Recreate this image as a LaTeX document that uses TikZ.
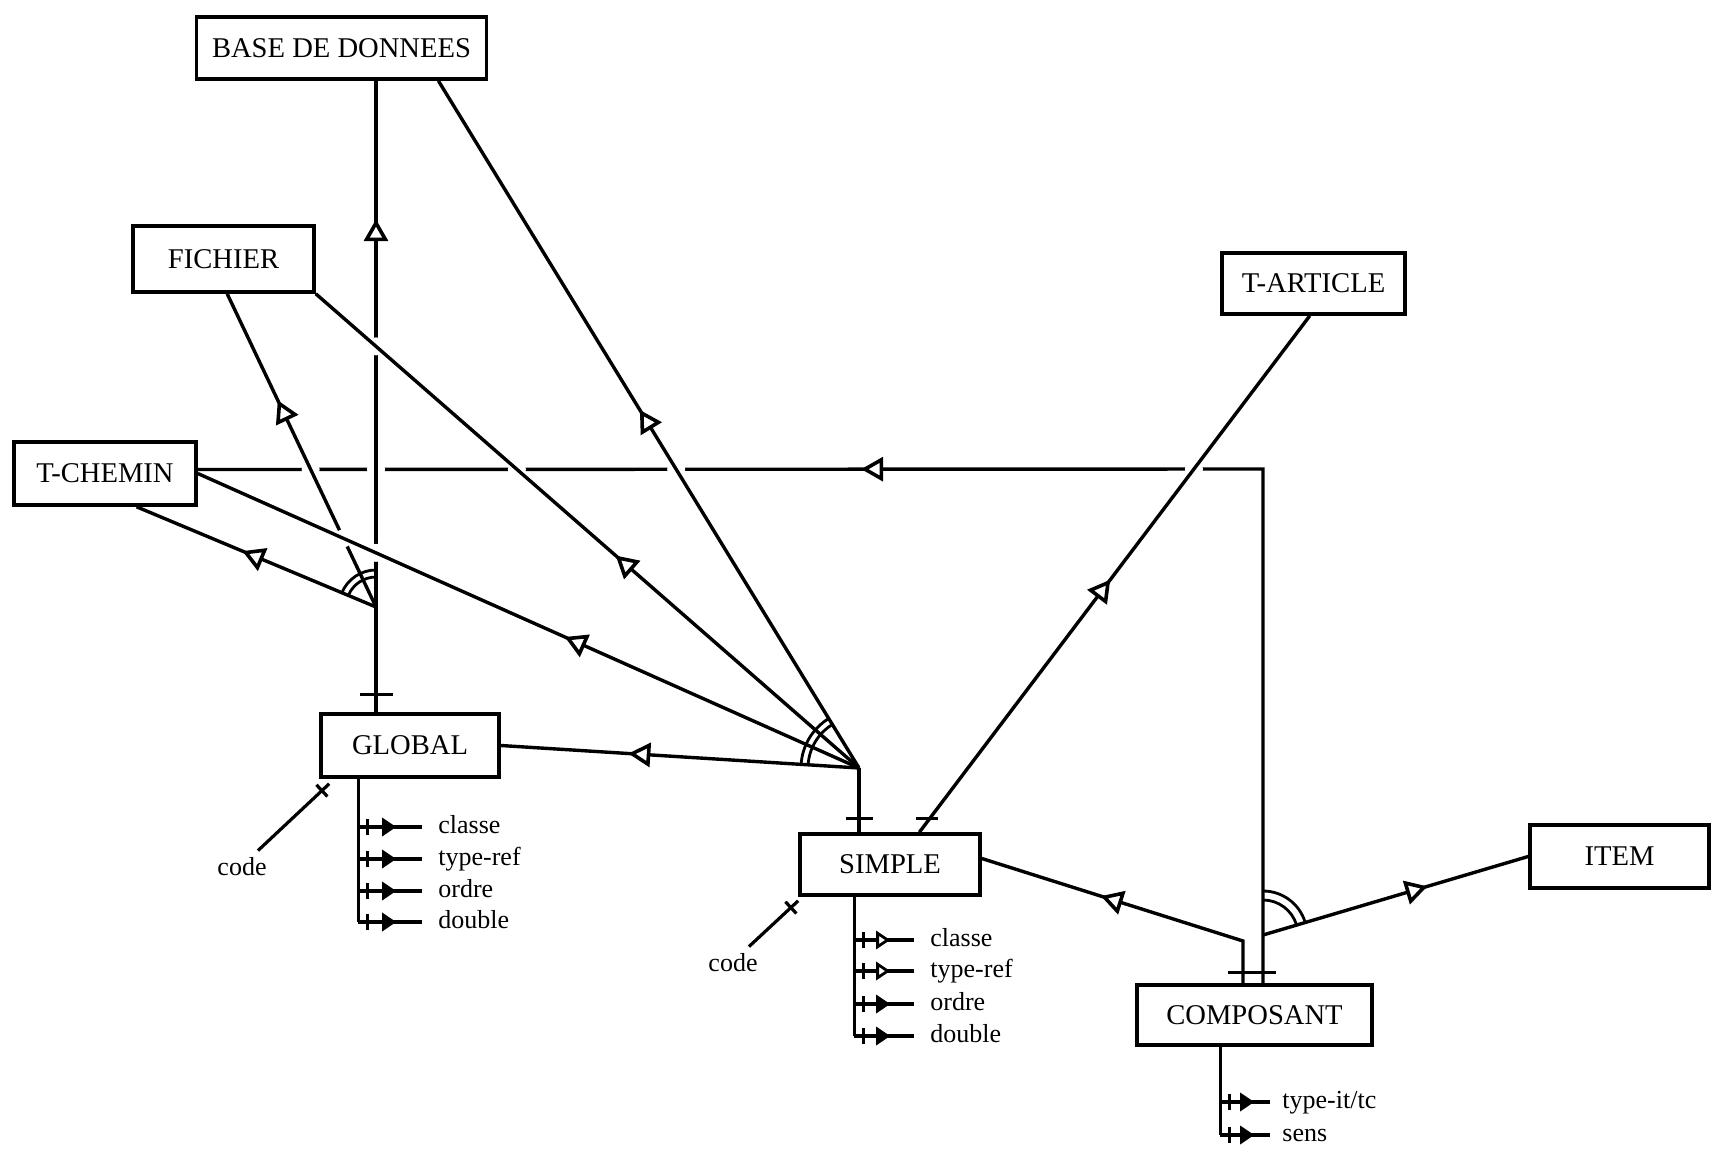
\documentclass[tikz,border=0pt]{standalone}
\usepackage{fontspec}
\setmainfont{Liberation Serif}
\usetikzlibrary{calc,intersections,decorations.markings,arrows.meta}
\begin{document}
\begin{tikzpicture}[x=0.5pt,y=-0.5pt,
  box/.style={draw, line width=1.8pt, rectangle, inner sep=0pt, font=\fontsize{14.3}{16}\selectfont},
  line/.style={line width=1.7pt},
  tickbar/.style={line width=1.7pt},
  arcline/.style={line width=1.4pt},
  arr/.style={postaction={decorate,decoration={markings,mark=at position #1 with {\arrow[line width=1.8pt]{Triangle[open,fill=white,length=11pt,width=12pt]}}}}},
  lab/.style={inner sep=0pt, text height=6pt, text depth=0pt, font=\fontsize{13}{15}\selectfont},
  attrf/.style={line width=1.6pt, postaction={decorate,decoration={markings,
     mark=at position 4.5pt with {\draw[line width=1.3pt] (0pt,-4pt) -- (0pt,4pt);},
     mark=at position #1 with {\arrow{Triangle[length=7pt,width=9pt]}}}}},
  attro/.style={line width=1.6pt, postaction={decorate,decoration={markings,
     mark=at position 4.5pt with {\draw[line width=1.3pt] (0pt,-4pt) -- (0pt,4pt);},
     mark=at position #1 with {\arrow[line width=1.4pt]{Triangle[open,fill=white,length=7pt,width=9pt]}}}}},
  codeline/.style={line width=1.6pt, postaction={decorate,decoration={markings,
     mark=at position 5pt with {\draw[line width=1.6pt] (0pt,-4pt) -- (0pt,4pt);}}}}
]
\useasboundingbox (0,0) rectangle (1712,1156);

% entity boxes
\node[box, minimum width=145pt, minimum height=31pt] (base) at (341.5,48) {BASE DE DONNEES};
\node[box, minimum width=90.5pt, minimum height=33pt] (fichier) at (223.5,259) {FICHIER};
\node[box, minimum width=91.5pt, minimum height=30.5pt] (tart) at (1313.5,283.5) {T-ARTICLE};
\node[box, minimum width=91pt, minimum height=31.5pt] (tchemin) at (105,473.5) {T-CHEMIN};
\node[box, minimum width=89pt, minimum height=31.5pt] (global) at (410,745.5) {GLOBAL};
\node[box, minimum width=90pt, minimum height=30.5pt] (simple) at (890,864.5) {SIMPLE};
\node[box, minimum width=117.5pt, minimum height=30pt] (composant) at (1254.5,1015) {COMPOSANT};
\node[box, minimum width=89.5pt, minimum height=31.5pt] (item) at (1619.5,856.5) {ITEM};

% junctions and anchor points
\coordinate (j1) at (376,607);
\coordinate (j2) at (859,768);
\coordinate (j3) at (1263,935);
\coordinate (c1) at (1263,469);
\coordinate (c2) at (1243,941);
\coordinate (tcE) at ($(tchemin.east)+(0,-4)$);
\coordinate (fiS) at ($(fichier.south west)!0.52!(fichier.south east)$);
\coordinate (tcS) at ($(tchemin.south west)!0.67!(tchemin.south east)$);
\coordinate (baS) at ($(base.south west)!0.83!(base.south east)$);
\coordinate (taS) at ($(tart.south west)!0.48!(tart.south east)$);
\coordinate (siN) at ($(simple.north west)!0.66!(simple.north east)$);
\coordinate (siE) at ($(simple.east)+(0,-6)$);

% paths used for crossings
\path[name path=H] (composant.north -| c1) -- (c1) -- (tcE);
\path[name path=V1] (j1) -- (base.south -| j1);
\path[name path=F] (j1) -- (fiS);
\path[name path=FS] (j2) -- (fichier.south east);
\path[name path=BS] (j2) -- (baS);
\path[name path=TS] (j2) -- (tchemin.east);
\path[name path=TA] (siN) -- (taS);

% lowest layer: COMPOSANT -> T-CHEMIN
\draw[line, arr=0.58] (composant.north -| c1) -- (c1) -- (tcE);
\foreach \p in {V1,F,FS,BS,TA} {
  \fill[white, name intersections={of=H and \p, by=ix}] (ix) circle[radius=4.5pt];
}

% GLOBAL hub
\draw[line, arr=0.737] (j1) -- (base.south -| j1);
\draw[line] (j1) -- (global.north -| j1);
\draw[line, arr=0.66] (j1) -- (fiS);
\draw[line, arr=0.558] (j1) -- (tcS);
\fill[white, name intersections={of=V1 and FS, by=iya}] (iya) circle[radius=4.5pt];
\fill[white, name intersections={of=V1 and TS, by=iyb}] (iyb) circle[radius=4.5pt];
\fill[white, name intersections={of=F and TS, by=iyc}] (iyc) circle[radius=4.5pt];

% SIMPLE hub
\draw[line, arr=0.644] (j2) -- (global.east);
\draw[line, arr=0.445] (j2) -- (tchemin.east);
\draw[line, arr=0.448] (j2) -- (fichier.south east);
\draw[line, arr=0.521] (j2) -- (baS);
\draw[line] (j2) -- (simple.north -| j2);
\draw[line, arr=0.489] (siN) -- (taS);

% COMPOSANT links
\draw[line, arr=0.605] (composant.north -| c2) -- (c2) -- (siE);
\draw[line, arr=0.62] (j3) -- (item.west);

% ticks
\draw[tickbar] ($(global.north -| j1)+(-16,-18)$) -- ++(33,0);
\draw[tickbar] ($(simple.north -| j2)+(-13,-14)$) -- ++(27,0);
\draw[tickbar] ($(siN)+(-3,-14)$) -- ++(22,0);
\draw[tickbar] ($(composant.north -| c2)+(-15,-11)$) -- ($(composant.north -| c1)+(13,-11)$);

% double arcs
\draw[arcline] ([shift={(90:18.5pt)}]j1) arc[start angle=90, end angle=157, radius=18.5pt];
\draw[arcline] ([shift={(90:15pt)}]j1) arc[start angle=90, end angle=157, radius=15pt];
\draw[arcline] ([shift={(121.5:29pt)}]j2) arc[start angle=121.5, end angle=176.3, radius=29pt];
\draw[arcline] ([shift={(121.5:25.5pt)}]j2) arc[start angle=121.5, end angle=176.3, radius=25.5pt];
\draw[arcline] ([shift={(16.9:22pt)}]j3) arc[start angle=16.9, end angle=90, radius=22pt];
\draw[arcline] ([shift={(16.9:17.5pt)}]j3) arc[start angle=16.9, end angle=90, radius=17.5pt];

% GLOBAL attributes
\coordinate (gsp) at ($(global.south west)+(39,0)$);
\node[lab, anchor=west] (ga1) at (438,827) {classe};
\node[lab, anchor=west] (ga2) at (438,859) {type-ref};
\node[lab, anchor=west] (ga3) at (438,891) {ordre};
\node[lab, anchor=west] (ga4) at (438,922) {double};
\draw[line] (gsp) -- (gsp |- ga4.west);
\draw[attrf=19pt] (gsp |- ga1.west) -- ([xshift=-8pt]ga1.west);
\draw[attrf=19pt] (gsp |- ga2.west) -- ([xshift=-8pt]ga2.west);
\draw[attrf=19pt] (gsp |- ga3.west) -- ([xshift=-8pt]ga3.west);
\draw[attrf=19pt] (gsp |- ga4.west) -- ([xshift=-8pt]ga4.west);
\node[lab] (gcode) at (242,869) {code};
\draw[codeline] ($(global.south west)+(10,5)$) -- ($(gcode.north east)+(-9,-12)$);

% SIMPLE attributes
\coordinate (ssp) at ($(simple.south west)+(56,0)$);
\node[lab, anchor=west] (sa1) at (930,940) {classe};
\node[lab, anchor=west] (sa2) at (930,971) {type-ref};
\node[lab, anchor=west] (sa3) at (930,1004) {ordre};
\node[lab, anchor=west] (sa4) at (930,1036) {double};
\draw[line] (ssp) -- (ssp |- sa4.west);
\draw[attro=18pt] (ssp |- sa1.west) -- ([xshift=-8pt]sa1.west);
\draw[attro=18pt] (ssp |- sa2.west) -- ([xshift=-8pt]sa2.west);
\draw[attrf=18pt] (ssp |- sa3.west) -- ([xshift=-8pt]sa3.west);
\draw[attrf=18pt] (ssp |- sa4.west) -- ([xshift=-8pt]sa4.west);
\node[lab] (scode) at (733,965) {code};
\draw[codeline] ($(simple.south west)+(0,4)$) -- ($(scode.north east)+(-9,-12)$);

% COMPOSANT attributes
\coordinate (csp) at ($(composant.south west)+(85,0)$);
\node[lab, anchor=west] (ca1) at (1282,1102) {type-it/tc};
\node[lab, anchor=west] (ca2) at (1282,1135) {sens};
\draw[line] (csp) -- (csp |- ca2.west);
\draw[attrf=17pt] (csp |- ca1.west) -- ([xshift=-6pt]ca1.west);
\draw[attrf=17pt] (csp |- ca2.west) -- ([xshift=-6pt]ca2.west);
\end{tikzpicture}
\end{document}
